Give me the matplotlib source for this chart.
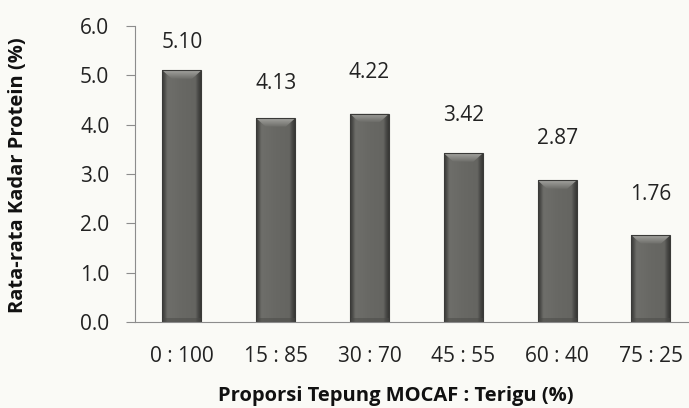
import numpy as np
import matplotlib
matplotlib.use("Agg")
import matplotlib.pyplot as plt
from matplotlib.patches import Polygon
from matplotlib.colors import LinearSegmentedColormap

# Data: average protein content per MOCAF : wheat flour proportion
categories = ["0 : 100", "15 : 85", "30 : 70", "45 : 55", "60 : 40", "75 : 25"]
protein = [5.10, 4.13, 4.22, 3.42, 2.87, 1.76]
value_labels = ["5.10", "4.13", "4.22", "3.42", "2.87", "1.76"]

# label offsets above bars, in points
label_offsets = [20, 25, 30, 27, 30, 29]

plt.rcParams["font.family"] = ["Open Sans", "DejaVu Sans"]

bg = "#fafaf6"
fig = plt.figure(figsize=(6.89, 4.08), dpi=100, facecolor=bg)
ax = fig.add_axes([135 / 689, 86 / 408, 554 / 689, 296 / 408], facecolor=bg)

x = np.arange(len(categories))
bars = ax.bar(x, protein, width=0.415, color="#676763", edgecolor="none",
              zorder=2)

# side shading across each bar, darker at the edges
shade = LinearSegmentedColormap.from_list(
    "shade", [(0.0, "#383836"), (0.07, "#4e4e4b"), (0.14, "#6e6e6a"),
              (0.5, "#686864"), (0.86, "#656561"), (0.93, "#4a4a47"),
              (1.0, "#363634")])
# bevel at the top, light at the rim
bevel = LinearSegmentedColormap.from_list("bevel", ["#6c6c68", "#a5a5a1"])
grad = np.linspace(0, 1, 256).reshape(1, -1)
vgrad = np.linspace(0, 1, 64).reshape(-1, 1)
for b in bars:
    x0, w, h = b.get_x(), b.get_width(), b.get_height()
    im = ax.imshow(grad, cmap=shade, extent=[x0, x0 + w, 0, h],
                   aspect="auto", zorder=2.1, interpolation="bilinear")
    im.set_clip_path(b)
    d = w * 0.24
    dy = 0.17
    top = Polygon([(x0, h), (x0 + w, h), (x0 + w - d, h - dy), (x0 + d, h - dy)],
                  closed=True, facecolor="none", edgecolor="none")
    ax.add_patch(top)
    tim = ax.imshow(vgrad, cmap=bevel, extent=[x0, x0 + w, h - dy, h],
                    aspect="auto", zorder=2.2, origin="lower",
                    interpolation="bilinear")
    tim.set_clip_path(top)
    # shadow near the base
    ax.add_patch(Polygon([(x0, 0), (x0 + w, 0), (x0 + w, 0.09), (x0, 0.09)],
                         closed=True, facecolor="#4a4a47", alpha=0.5,
                         edgecolor="none", zorder=2.25))
    ax.add_patch(Polygon([(x0, h), (x0 + w, h), (x0 + w, 0), (x0, 0)], closed=True,
                         facecolor="none", edgecolor="#3a3a38", linewidth=0.8,
                         zorder=2.3))

for xi, v, lab, off in zip(x, protein, value_labels, label_offsets):
    ax.annotate(lab, (xi, v), xytext=(0, off), textcoords="offset points",
                ha="center", va="center", fontsize=15, color="#222222")

ax.set_xlim(-0.5, 5.406)
ax.set_ylim(0, 6)
ax.set_yticks(np.arange(0, 6.1, 1.0))
ax.set_yticklabels([f"{t:.1f}" for t in np.arange(0, 6.1, 1.0)])
ax.set_xticks(x)
ax.set_xticklabels(categories)

for s in ["top", "right"]:
    ax.spines[s].set_visible(False)
ax.spines["left"].set_color("#8c8c8c")
ax.spines["bottom"].set_color("#8c8c8c")
ax.tick_params(axis="y", direction="out", length=6.5, color="#8c8c8c",
               labelsize=15, labelcolor="#222222", pad=12)
ax.tick_params(axis="x", length=0, labelsize=15, labelcolor="#222222", pad=17)

fig.text(18 / 689, 233 / 408, "Rata-rata Kadar Protein (%)", rotation=90,
         ha="center", va="center", fontsize=14.5, fontweight="bold",
         color="#111111")
fig.text(396 / 689, 12 / 408, "Proporsi Tepung MOCAF : Terigu (%)",
         ha="center", va="center", fontsize=14.5, fontweight="bold",
         color="#111111")

fig.savefig("out.png", dpi=100, facecolor=bg)
